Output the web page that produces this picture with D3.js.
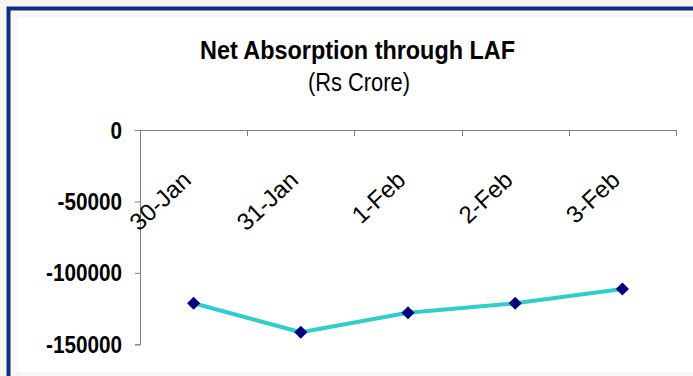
<!DOCTYPE html>
<html>
<head>
<meta charset="utf-8">
<script src="https://cdn.jsdelivr.net/npm/d3@7"></script>
<style>
  html, body { margin: 0; padding: 0; background: #f8f5f2; }
  svg { display: block; }
</style>
</head>
<body>
<div id="chart"></div>
<script>
// Net absorption through the Liquidity Adjustment Facility, Rs crore
const categories = ["30-Jan", "31-Jan", "1-Feb", "2-Feb", "3-Feb"];
const absorption = [-121300, -141600, -127900, -121300, -111300];
const yTicks = [0, -50000, -100000, -150000];
const titleText = "Net Absorption through LAF";
const subtitleText = "(Rs Crore)";

const W = 693, H = 376;
const svg = d3.select("#chart").append("svg")
  .attr("width", W).attr("height", H);

// frame: beige page, navy rule, beige inset, white chart area
svg.append("rect").attr("x", 0).attr("y", 0).attr("width", W).attr("height", H).attr("fill", "#f8f5f2");
svg.append("rect").attr("x", 6.5).attr("y", 6.5).attr("width", W).attr("height", H).attr("fill", "#0c2e84");
svg.append("rect").attr("x", 10.5).attr("y", 10.5).attr("width", W).attr("height", H).attr("fill", "#f8f5f2");
svg.append("rect").attr("x", 17).attr("y", 17).attr("width", W - 17).attr("height", 372 - 17).attr("fill", "#ffffff");

const font = "'Liberation Sans', Arial, sans-serif";

// titles, set in a slightly condensed face
svg.append("text")
  .attr("x", 357.5).attr("y", 59)
  .attr("text-anchor", "middle")
  .attr("font-family", font).attr("font-weight", "bold").attr("font-size", 25)
  .attr("textLength", 315).attr("lengthAdjust", "spacingAndGlyphs")
  .attr("fill", "#000")
  .text(titleText);

svg.append("text")
  .attr("x", 359).attr("y", 91)
  .attr("text-anchor", "middle")
  .attr("font-family", font).attr("font-size", 25)
  .attr("textLength", 102).attr("lengthAdjust", "spacingAndGlyphs")
  .attr("fill", "#000")
  .text(subtitleText);

// scales
const x = d3.scaleBand().domain(categories).range([140, 676]).paddingInner(0).paddingOuter(0);
const y = d3.scaleLinear().domain([-150000, 0]).range([344.3, 130]);

const axisColor = "#7f7f7f";

// value axis on the left
const yAxis = d3.axisLeft(y).tickValues(yTicks).tickSize(5).tickFormat(d3.format("d"));
const gy = svg.append("g").attr("transform", "translate(140,0)").call(yAxis);
gy.select(".domain").attr("stroke", axisColor).attr("stroke-width", 1);
gy.selectAll(".tick line").attr("stroke", axisColor);
gy.selectAll(".tick text").remove();
gy.selectAll(".tick").append("text")
  .attr("text-anchor", "end")
  .attr("transform", "translate(-18,8) scale(0.9,1)")
  .attr("font-family", font).attr("font-weight", "bold").attr("font-size", 23)
  .attr("fill", "#000")
  .text(d => d3.format("d")(d).replace("−", "-"));

// category axis along the zero line, ticks at band boundaries
const boundaries = categories.map(c => x(c)).concat([x.range()[1]]);
const gx = svg.append("g");
gx.append("line")
  .attr("x1", x.range()[0]).attr("x2", x.range()[1])
  .attr("y1", y(0) + 0.5).attr("y2", y(0) + 0.5)
  .attr("stroke", axisColor);
gx.selectAll("line.tk").data(boundaries.slice(1)).join("line")
  .attr("class", "tk")
  .attr("x1", d => Math.round(d) + 0.5).attr("x2", d => Math.round(d) + 0.5)
  .attr("y1", y(0)).attr("y2", y(0) + 6)
  .attr("stroke", axisColor);

// rotated category labels inside the plot
gx.selectAll("text.cat").data(categories).join("text")
  .attr("class", "cat")
  .attr("text-anchor", "end")
  .attr("transform", d => `translate(${x(d) + x.bandwidth() / 2 - 1},182) rotate(-43)`)
  .attr("font-family", font).attr("font-size", 24)
  .attr("fill", "#000")
  .text(d => d);

// series line
const pts = categories.map((c, i) => ({ c, v: absorption[i] }));
const line = d3.line().x(d => x(d.c) + x.bandwidth() / 2).y(d => y(d.v));
svg.append("path").datum(pts)
  .attr("d", line)
  .attr("fill", "none")
  .attr("stroke", "#33cccc")
  .attr("stroke-width", 4)
  .attr("stroke-linejoin", "round");

// diamond markers
const diamond = d3.symbol().type(d3.symbolDiamond2).size(110);
svg.selectAll("path.mk").data(pts).join("path")
  .attr("class", "mk")
  .attr("d", diamond)
  .attr("transform", d => `translate(${x(d.c) + x.bandwidth() / 2},${y(d.v)})`)
  .attr("fill", "#000080");
</script>
</body>
</html>
